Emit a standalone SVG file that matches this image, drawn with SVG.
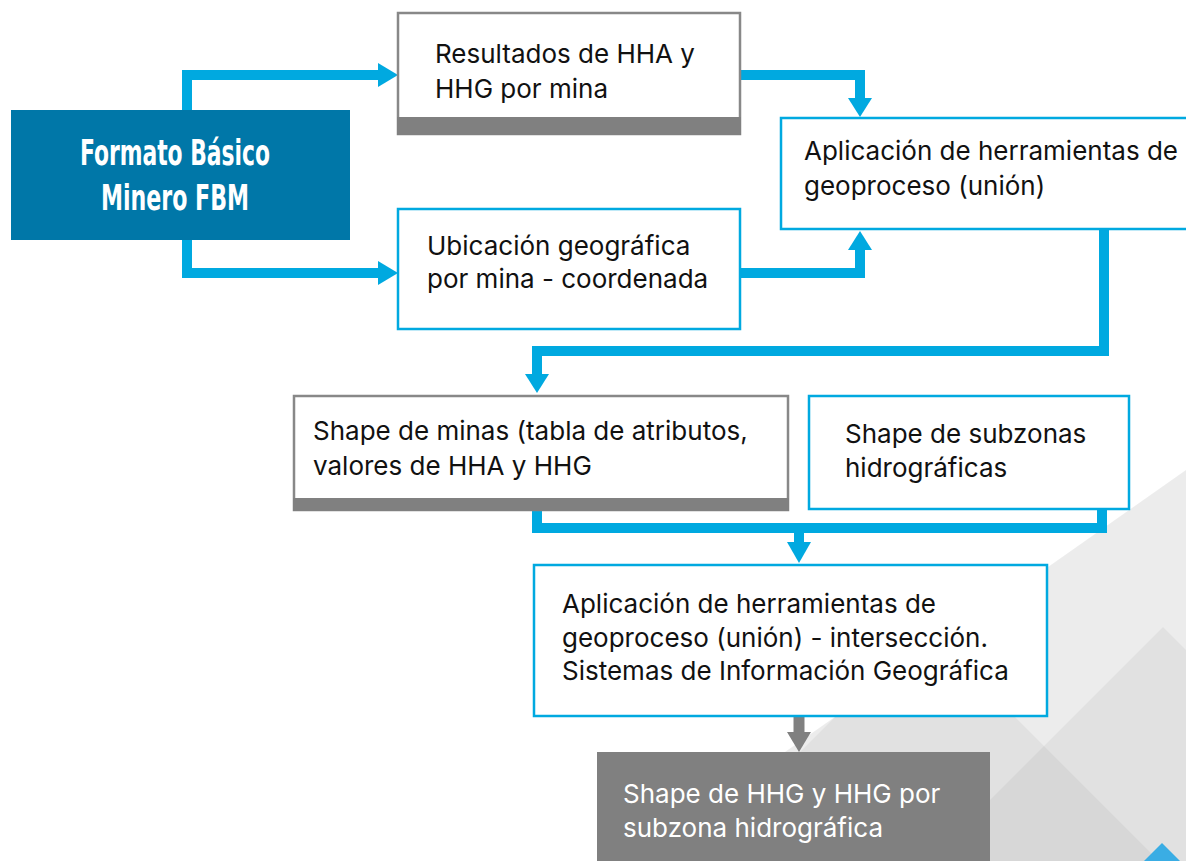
<svg xmlns="http://www.w3.org/2000/svg" width="1186" height="861" viewBox="0 0 1186 861">
<defs>
<style>
.t{font-family:Inter,Roboto,"Liberation Sans",sans-serif;font-size:26px;fill:#111;}
.tw{font-family:Inter,Roboto,"Liberation Sans",sans-serif;font-size:26px;fill:#fff;}
.tb{font-family:"DejaVu Sans Condensed","Liberation Sans",sans-serif;font-weight:bold;font-size:35px;fill:#fff;}
.bl{fill:#fff;stroke:#00a9e0;stroke-width:2.5;}
.gr{fill:#fff;stroke:#888;stroke-width:2.5;}
.ln{fill:none;stroke:#00a9e0;stroke-width:10;stroke-linejoin:miter;}
.ah{fill:#00a9e0;}
.bg1{fill:#000;opacity:0.075;}
.bg2{fill:#000;opacity:0.045;}
</style>
</defs>
<rect x="0" y="0" width="1186" height="861" fill="#fff"/>
<g id="background">
<polygon class="bg1" points="1186,470 1186,861 630,861"/>
<polygon class="bg2" points="925,627 1159,861 691,861"/>
<polygon class="bg2" points="1163,627 1186,650 1186,861 929,861"/>
<polygon fill="#3aade4" points="1162,843 1180,861 1144,861"/>
</g>
<g id="connectors">
<polyline class="ln" points="187,110 187,75 380,75"/>
<polygon class="ah" points="378,63 398,75 378,87"/>
<polyline class="ln" points="187,240 187,273 380,273"/>
<polygon class="ah" points="378,261 398,273 378,285"/>
<polyline class="ln" points="740,75 860,75 860,100"/>
<polygon class="ah" points="848,98 872,98 860,117"/>
<polyline class="ln" points="740,273 860,273 860,248"/>
<polygon class="ah" points="848,250 872,250 860,231"/>
<polyline class="ln" points="1104,230 1104,351 537,351 537,376"/>
<polygon class="ah" points="525,374 549,374 537,393"/>
<polyline class="ln" points="537,510 537,528 1102,528 1102,509"/>
<line class="ln" x1="799" y1="528" x2="799" y2="545"/>
<polygon class="ah" points="787,542 811,542 799,563"/>
<line x1="799" y1="717" x2="799" y2="735" stroke="#808080" stroke-width="11"/>
<polygon fill="#808080" points="787,732 811,732 799,752"/>
</g>
<g id="n-fbm">
<rect x="11" y="110" width="339" height="130" fill="#0077a8"/>
<text class="tb" x="175" y="165" text-anchor="middle" textLength="190" lengthAdjust="spacingAndGlyphs">Formato Básico</text>
<text class="tb" x="175" y="210" text-anchor="middle" textLength="148" lengthAdjust="spacingAndGlyphs">Minero FBM</text>
</g>
<g id="n-resultados">
<rect class="gr" x="398" y="13" width="342" height="121"/>
<rect x="397" y="117" width="344" height="18" fill="#808080"/>
<text class="t" x="435" y="63">Resultados de HHA y</text>
<text class="t" x="435" y="98">HHG por mina</text>
</g>
<g id="n-ubicacion">
<rect class="bl" x="398" y="209" width="342" height="120"/>
<text class="t" x="427" y="255">Ubicación geográfica</text>
<text class="t" x="427" y="288">por mina - coordenada</text>
</g>
<g id="n-aplicacion1">
<rect class="bl" x="781" y="118" width="420" height="111"/>
<text class="t" x="804" y="160">Aplicación de herramientas de</text>
<text class="t" x="804" y="195">geoproceso (unión)</text>
</g>
<g id="n-shape-minas">
<rect class="gr" x="294" y="396" width="494" height="114"/>
<rect x="293" y="498" width="496" height="13" fill="#808080"/>
<text class="t" x="313" y="440">Shape de minas (tabla de atributos,</text>
<text class="t" x="313" y="475">valores de HHA y HHG</text>
</g>
<g id="n-subzonas">
<rect class="bl" x="809" y="396" width="320" height="113"/>
<text class="t" x="845" y="443">Shape de subzonas</text>
<text class="t" x="845" y="477">hidrográficas</text>
</g>
<g id="n-aplicacion2">
<rect class="bl" x="534" y="565" width="513" height="151"/>
<text class="t" x="562" y="613">Aplicación de herramientas de</text>
<text class="t" x="562" y="647">geoproceso (unión) - intersección.</text>
<text class="t" x="562" y="680">Sistemas de Información Geográfica</text>
</g>
<g id="n-resultado-final">
<rect x="597" y="752" width="393" height="109" fill="#808080"/>
<text class="tw" x="623" y="803">Shape de HHG y HHG por</text>
<text class="tw" x="623" y="837">subzona hidrográfica</text>
</g>
</svg>
